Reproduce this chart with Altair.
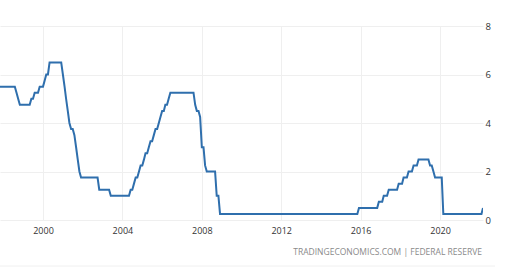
import altair as alt
import pandas as pd

# Monthly US Fed Funds rate (upper bound), Nov 1997 - Mar 2022
v1997 = [5.5, 5.5]
v1998 = [5.5, 5.5, 5.5, 5.5, 5.5, 5.5, 5.5, 5.5, 5.25, 5.0, 4.75, 4.75]
v1999 = [4.75, 4.75, 4.75, 4.75, 4.75, 5.0, 5.0, 5.25, 5.25, 5.25, 5.5, 5.5]
v2000 = [5.5, 5.75, 6.0, 6.0, 6.5, 6.5, 6.5, 6.5, 6.5, 6.5, 6.5, 6.5]
v2001 = [6.0, 5.5, 5.0, 4.5, 4.0, 3.75, 3.75, 3.5, 3.0, 2.5, 2.0, 1.75]
v2002 = [1.75, 1.75, 1.75, 1.75, 1.75, 1.75, 1.75, 1.75, 1.75, 1.75, 1.25, 1.25]
v2003 = [1.25, 1.25, 1.25, 1.25, 1.25, 1.0, 1.0, 1.0, 1.0, 1.0, 1.0, 1.0]
v2004 = [1.0, 1.0, 1.0, 1.0, 1.0, 1.25, 1.25, 1.5, 1.75, 1.75, 2.0, 2.25]
v2005 = [2.25, 2.5, 2.75, 2.75, 3.0, 3.25, 3.25, 3.5, 3.75, 3.75, 4.0, 4.25]
v2006 = [4.5, 4.5, 4.75, 4.75, 5.0, 5.25, 5.25, 5.25, 5.25, 5.25, 5.25, 5.25]
v2007 = [5.25, 5.25, 5.25, 5.25, 5.25, 5.25, 5.25, 5.25, 4.75, 4.5, 4.5, 4.25]
v2008 = [3.0, 3.0, 2.25, 2.0, 2.0, 2.0, 2.0, 2.0, 2.0, 1.0, 1.0, 0.25]
v2009 = [0.25, 0.25, 0.25, 0.25, 0.25, 0.25, 0.25, 0.25, 0.25, 0.25, 0.25, 0.25]
v2010 = [0.25, 0.25, 0.25, 0.25, 0.25, 0.25, 0.25, 0.25, 0.25, 0.25, 0.25, 0.25]
v2011 = [0.25, 0.25, 0.25, 0.25, 0.25, 0.25, 0.25, 0.25, 0.25, 0.25, 0.25, 0.25]
v2012 = [0.25, 0.25, 0.25, 0.25, 0.25, 0.25, 0.25, 0.25, 0.25, 0.25, 0.25, 0.25]
v2013 = [0.25, 0.25, 0.25, 0.25, 0.25, 0.25, 0.25, 0.25, 0.25, 0.25, 0.25, 0.25]
v2014 = [0.25, 0.25, 0.25, 0.25, 0.25, 0.25, 0.25, 0.25, 0.25, 0.25, 0.25, 0.25]
v2015 = [0.25, 0.25, 0.25, 0.25, 0.25, 0.25, 0.25, 0.25, 0.25, 0.25, 0.25, 0.5]
v2016 = [0.5, 0.5, 0.5, 0.5, 0.5, 0.5, 0.5, 0.5, 0.5, 0.5, 0.5, 0.75]
v2017 = [0.75, 0.75, 1.0, 1.0, 1.0, 1.25, 1.25, 1.25, 1.25, 1.25, 1.25, 1.5]
v2018 = [1.5, 1.5, 1.75, 1.75, 1.75, 2.0, 2.0, 2.0, 2.25, 2.25, 2.25, 2.5]
v2019 = [2.5, 2.5, 2.5, 2.5, 2.5, 2.5, 2.25, 2.25, 2.0, 1.75, 1.75, 1.75]
v2020 = [1.75, 1.75, 0.25, 0.25, 0.25, 0.25, 0.25, 0.25, 0.25, 0.25, 0.25, 0.25]
v2021 = [0.25, 0.25, 0.25, 0.25, 0.25, 0.25, 0.25, 0.25, 0.25, 0.25, 0.25, 0.25]
v2022 = [0.25, 0.25, 0.5]

values = (v1997 + v1998 + v1999 + v2000 + v2001 + v2002 + v2003 + v2004 + v2005
          + v2006 + v2007 + v2008 + v2009 + v2010 + v2011 + v2012 + v2013 + v2014
          + v2015 + v2016 + v2017 + v2018 + v2019 + v2020 + v2021 + v2022)
dates = pd.date_range("1997-11-01", periods=len(values), freq="MS")

x_ticks = ["2000-01-01", "2004-01-01", "2008-01-01", "2012-01-01", "2016-01-01", "2020-01-01"]
y_ticks = [0, 2, 4, 6, 8]
source_text = "TRADINGECONOMICS.COM | FEDERAL RESERVE"

df = pd.DataFrame({"date": dates, "value": values})

tick_dt = [alt.DateTime(year=int(t[:4]), month=1, date=1) for t in x_ticks]

line = alt.Chart(df).mark_line(color="#2f6fad", strokeWidth=2, clip=True).encode(
    x=alt.X("date:T",
            scale=alt.Scale(domain=[alt.DateTime(year=1997, month=11, date=1),
                                    alt.DateTime(year=2022, month=3, date=1)]),
            axis=alt.Axis(values=tick_dt, format="%Y", title=None, domain=False,
                          ticks=False, grid=True, gridColor="#efefef",
                          labelFont="Open Sans", labelFontSize=9, labelColor="#333333",
                          labelPadding=6)),
    y=alt.Y("value:Q", scale=alt.Scale(domain=[0, 8], nice=False, zero=True),
            axis=alt.Axis(values=y_ticks, orient="right", title=None, domain=False,
                          ticks=False, grid=True, gridColor="#efefef",
                          labelFont="Open Sans", labelFontSize=9.5, labelColor="#333333",
                          labelPadding=2, labelAlign="left", labelBaseline="middle")),
)

src = alt.Chart(pd.DataFrame({"t": [source_text]})).mark_text(
    align="right", baseline="middle", font="Open Sans", fontSize=8.5, color="#8a8a8a"
).encode(text="t:N", x=alt.value(482), y=alt.value(226))

bottom_rule = alt.Chart(pd.DataFrame({"a": [0]})).mark_rule(
    color="#f0f0f0", strokeWidth=1
).encode(x=alt.value(0), x2=alt.value(495), y=alt.value(240))

chart = alt.layer(line, src, bottom_rule).properties(
    width=483, height=194,
    padding={"left": 0, "top": 26, "right": 37, "bottom": 52},
    autosize=alt.AutoSizeParams(type="none"),
).configure_view(stroke=None)

chart.save("out.html", embed_options={"renderer": "svg", "actions": False})
